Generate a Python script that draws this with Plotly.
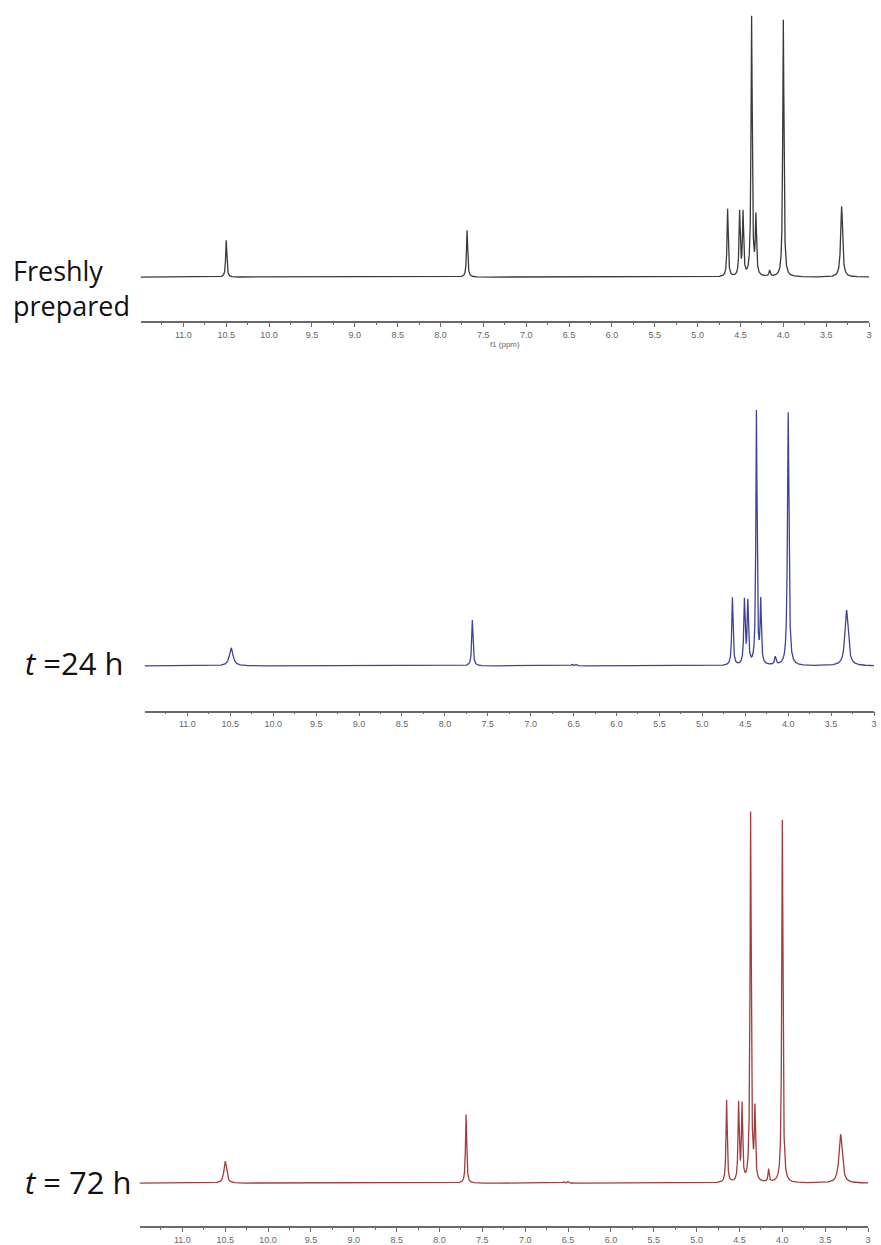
import numpy as np
import plotly.graph_objects as go

W, H = 881, 1245

# ---- Data: peak lists (ppm, intensity a.u., half-width ppm) ----
fresh_ppm = [10.50, 7.69, 4.65, 4.51, 4.47, 4.37, 4.32, 4.16, 4.00, 3.32]
fresh_int = [37, 47, 68, 64, 63, 260, 58, 6, 258, 71]
fresh_hw = [0.008, 0.008, 0.008, 0.008, 0.008, 0.008, 0.008, 0.008, 0.008, 0.013]

h24_ppm = [10.49, 7.68, 6.52, 6.47, 4.65, 4.51, 4.47, 4.37, 4.32, 4.15, 4.00, 3.32]
h24_int = [18, 46, 1.5, 1.5, 68, 64, 62, 254, 62, 8, 254, 56]
h24_hw = [0.025, 0.009, 0.01, 0.01, 0.009, 0.009, 0.009, 0.008, 0.008, 0.010, 0.010, 0.022]

h72_ppm = [10.50, 7.69, 6.55, 6.50, 4.65, 4.51, 4.47, 4.37, 4.32, 4.16, 4.00, 3.32]
h72_int = [22, 69, 1.5, 1.5, 83, 78, 76, 370, 70, 13, 364, 49]
h72_hw = [0.018, 0.008, 0.01, 0.01, 0.008, 0.008, 0.008, 0.008, 0.008, 0.008, 0.008, 0.022]

tick_vals = [11.0, 10.5, 10.0, 9.5, 9.0, 8.5, 8.0, 7.5, 7.0, 6.5, 6.0, 5.5, 5.0, 4.5, 4.0, 3.5, 3.0]
tick_text = ["11.0", "10.5", "10.0", "9.5", "9.0", "8.5", "8.0", "7.5", "7.0", "6.5",
             "6.0", "5.5", "5.0", "4.5", "4.0", "3.5", "3"]
minor_vals = [11.25, 10.75, 10.25, 9.75, 9.25, 8.75, 8.25, 7.75, 7.25, 6.75, 6.25,
              5.75, 5.25, 4.75, 4.25, 3.75, 3.25]

labels = ["Freshly<br>prepared", "<i>t</i> =24 h", "<i>t</i> = 72 h"]
colors = ["#3a3a3a", "#3f4299", "#a23c3c"]

ppm = np.linspace(11.5, 3.0, 17001)


def spectrum(pos, amp, hw):
    y = np.zeros_like(ppm)
    for p, a, w in zip(pos, amp, hw):
        y += a / (1 + ((ppm - p) / w) ** 2)
    return y


def X(px):
    return px / W


def Y(py):
    return 1 - py / H


fig = go.Figure()
specs = [
    (fresh_ppm, fresh_int, fresh_hw),
    (h24_ppm, h24_int, h24_hw),
    (h72_ppm, h72_int, h72_hw),
]
# layout geometry (pixels): x-left, x-right, axis-line y, top y, y range
geo = [
    (141, 872, 322, 8, [-44, 270]),
    (145, 877, 713, 398, [-45, 270]),
    (140, 871, 1230, 800, [-43, 387]),
]

for i, ((p, a, w), col, (xl, xr, yb, yt, yr)) in enumerate(zip(specs, colors, geo)):
    n = "" if i == 0 else str(i + 1)
    fig.add_trace(go.Scatter(x=ppm, y=spectrum(p, a, w), mode="lines",
                             line=dict(color=col, width=1.3),
                             xaxis="x" + n, yaxis="y" + n, showlegend=False,
                             hoverinfo="skip"))
    fig.layout["xaxis" + n] = dict(
        domain=[X(xl), X(xr)], anchor="y" + n, range=[11.5, 3.0],
        showline=True, linecolor="#6a6a6a", linewidth=1.5,
        ticks="outside", ticklen=4, tickwidth=1, tickcolor="#6a6a6a",
        tickvals=tick_vals, ticktext=tick_text,
        tickfont=dict(family="Liberation Sans", size=9, color="#666666"),
        minor=dict(tickvals=minor_vals, ticks="outside", ticklen=2, tickcolor="#6a6a6a"),
        showgrid=False, zeroline=False, fixedrange=True,
        title=dict(text="f1 (ppm)", font=dict(family="Liberation Sans", size=8, color="#666666"),
                   standoff=2) if i == 0 else None,
    )
    fig.layout["yaxis" + n] = dict(domain=[Y(yb), Y(yt)], anchor="x" + n, range=yr,
                                   visible=False, fixedrange=True)

ann = [
    dict(text=labels[0], x=X(11), y=Y(289), size=27),
    dict(text=labels[1], x=X(23), y=Y(665), size=31),
    dict(text=labels[2], x=X(23), y=Y(1186), size=31),
]
for a in ann:
    s = a.pop("size")
    a.update(xref="paper", yref="paper", showarrow=False, xanchor="left",
             yanchor="middle", align="left",
             font=dict(family="Open Sans", size=s, color="#111111"))
fig.update_layout(annotations=ann)

fig.update_layout(width=W, height=H, margin=dict(l=0, r=0, t=0, b=0),
                  paper_bgcolor="white", plot_bgcolor="white")

fig.write_html("out.html")
